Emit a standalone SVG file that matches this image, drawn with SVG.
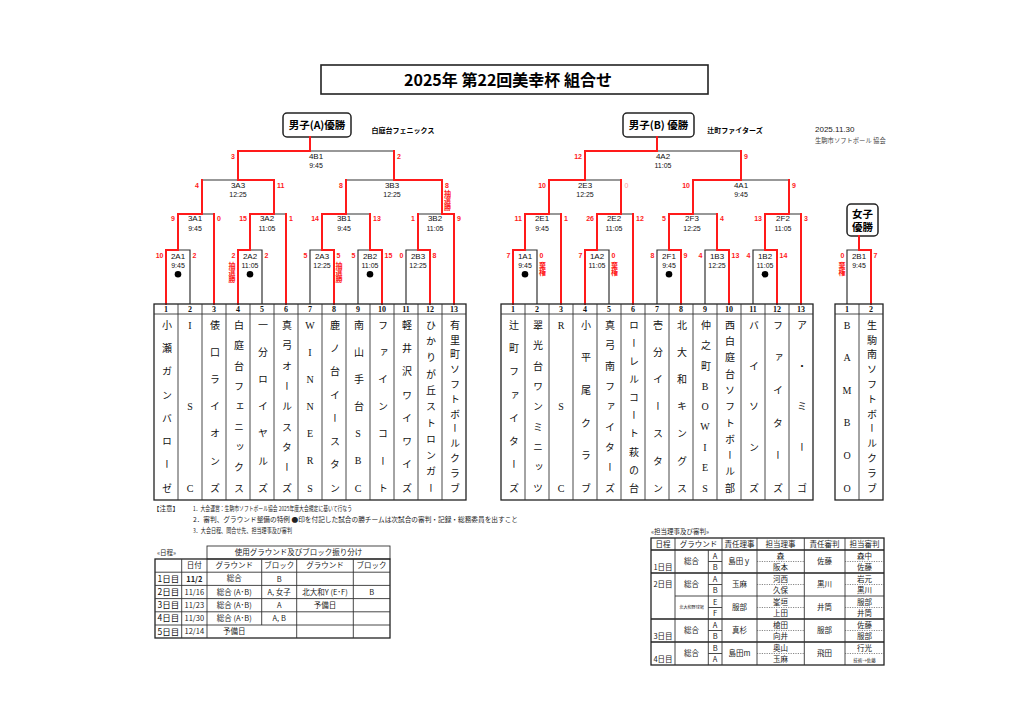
<svg xmlns="http://www.w3.org/2000/svg" width="1024" height="724" viewBox="0 0 1024 724">
<style>
.bk{stroke:#333;stroke-width:1.2;fill:none}
.rd{stroke:#ff1a1a;stroke-width:2;fill:none;stroke-linecap:square}
.sc{font-family:"Liberation Sans",sans-serif;font-size:7px;font-weight:bold;fill:#ff1a1a}
.e{text-anchor:end}
.cd{font-family:"Liberation Sans",sans-serif;font-size:8px;fill:#111;text-anchor:middle}
.tm{font-family:"Liberation Sans",sans-serif;font-size:7px;fill:#111;text-anchor:middle}
.vr{font-family:"Noto Sans CJK JP",sans-serif;font-size:7px;font-weight:bold;fill:#ff1a1a;writing-mode:vertical-rl}
.num{font-family:"Liberation Serif",serif;font-size:8px;font-weight:bold;text-anchor:middle;fill:#111}
.nm{font-family:"Liberation Serif","Noto Sans CJK JP",serif;font-size:10px;fill:#111;writing-mode:vertical-rl;text-orientation:upright;text-anchor:middle}
.cb{fill:#fff;stroke:#222;stroke-width:1.5}
.ct{font-family:"Noto Sans CJK JP",sans-serif;font-weight:bold;font-size:10.5px;text-anchor:middle;fill:#000}
.sm{font-family:"Noto Sans CJK JP",sans-serif;font-size:7px;font-weight:bold;fill:#000;text-anchor:middle}
.gl{stroke:#333;stroke-width:0.9;fill:none}
.go{stroke:#222;stroke-width:1.3;fill:none}
.tx{font-family:"Noto Sans CJK JP",sans-serif;font-size:7.5px;fill:#222;text-anchor:middle}
.tl{font-family:"Noto Sans CJK JP",sans-serif;font-size:8.5px;fill:#111;text-anchor:middle}
.nt{font-family:"Noto Sans CJK JP",sans-serif;font-size:6.5px;fill:#222}
.dt{stroke:#555;stroke-width:0.7;stroke-dasharray:1.2 1.2;fill:none}
</style>

<g id="title">
<rect x="321" y="65" width="387" height="29" fill="#fff" stroke="#222" stroke-width="1.6"/>
<text x="508" y="85.5" font-family="Noto Sans CJK JP, sans-serif" font-size="16" font-weight="bold" text-anchor="middle">2025年 第22回美幸杯 組合せ</text>
</g>

<g id="date">
<text x="815" y="132" font-family="Liberation Sans, sans-serif" font-size="8" fill="#222">2025.11.30</text>
<text x="815" y="143" font-family="Noto Sans CJK JP, sans-serif" font-size="6.3" fill="#444">生駒市ソフトボール 協会</text>
</g>

<g id="champ-a">
<rect class="cb" x="283" y="113" width="68" height="24" rx="4"/>
<text class="ct" x="317" y="129">男子(A)優勝</text>
<text class="sm" x="403" y="132.5">白庭台フェニックス</text>
</g>
<g id="champ-b">
<rect class="cb" x="623" y="113" width="71" height="24" rx="4"/>
<text class="ct" x="658.5" y="129">男子(B) 優勝</text>
<text class="sm" x="735" y="132.5">辻町ファイターズ</text>
</g>
<g id="champ-w">
<rect class="cb" x="847" y="204" width="31" height="32" rx="4"/>
<text class="ct" x="862.5" y="218" font-size="10">女子</text>
<text class="ct" x="862.5" y="231" font-size="10">優勝</text>
</g>

<g id="connectors">
<path class="bk" d="M238,180V151H394V180 M202,214V180H274V214 M346,214V180H442V214 M178,250V214H214V304 M250,250V214H286V304 M322,250V214H370V250 M418,250V214H454V304 M166,304V250H190V304 M238,304V250H262V304 M310,304V250H334V304 M358,304V250H382V304 M406,304V250H430V304"/>
<path class="bk" d="M585,180V151H741V180 M549,214V180H621V214 M693,214V180H789V214 M525,250V214H561V304 M597,250V214H633V304 M669,250V214H717V250 M765,250V214H801V304 M513,304V250H537V304 M585,304V250H609V304 M657,304V250H681V304 M705,304V250H729V304 M753,304V250H777V304"/>
<path class="bk" d="M847,304V250H871V304"/>
<path class="rd" d="M238,304V250H250V214H274V180H238V151H310V137 M394,180V151 M202,214V180 M394,180H442V214H454V304 M346,214V180 M166,304V250H178V214H202 M214,214V304 M250,214V250 M286,214V304 M334,304V250H322V214H346 M382,304V250H370V214 M430,304V250H418V214"/>
<path class="rd" d="M513,304V250H525V214H549V180H585V151H657V137 M741,151V180H693V214H669V250H681V304 M621,180V214H597V250H585V304 M561,214V304 M633,214V304 M717,214V250H729V304 M789,180V214H765V250H777V304 M801,214V304"/>
<path class="rd" d="M871,304V250H859V236"/>
</g>

<g id="match-4B1">
<text class="sc e" x="235" y="158.5">3</text><text class="cd" x="316" y="159">4B1</text><text class="tm" x="316" y="167.5">9:45</text><text class="sc" x="397" y="158.5">2</text>
</g>
<g id="match-3A3">
<text class="sc e" x="199" y="187.5">4</text><text class="cd" x="238" y="188">3A3</text><text class="tm" x="238" y="197">12:25</text><text class="sc" x="277" y="187.5">11</text>
</g>
<g id="match-3B3">
<text class="sc e" x="343" y="187.5">8</text><text class="cd" x="392" y="188">3B3</text><text class="tm" x="392" y="197">12:25</text><text class="sc" x="445" y="187.5">8</text><text class="vr" x="447.5" y="190">抽選勝</text>
</g>
<g id="match-3A1">
<text class="sc e" x="175" y="220.5">9</text><text class="cd" x="195" y="221">3A1</text><text class="tm" x="195" y="231">9:45</text><text class="sc" x="217" y="220.5">0</text>
</g>
<g id="match-3A2">
<text class="sc e" x="247" y="220.5">15</text><text class="cd" x="267" y="221">3A2</text><text class="tm" x="267" y="231">11:05</text><text class="sc" x="289" y="220.5">1</text>
</g>
<g id="match-3B1">
<text class="sc e" x="319" y="220.5">14</text><text class="cd" x="344" y="221">3B1</text><text class="tm" x="344" y="231">9:45</text><text class="sc" x="373" y="220.5">13</text>
</g>
<g id="match-3B2">
<text class="sc e" x="415" y="220.5">1</text><text class="cd" x="435" y="221">3B2</text><text class="tm" x="435" y="231">11:05</text><text class="sc" x="457" y="220.5">9</text>
</g>
<g id="match-2A1">
<text class="sc e" x="163.5" y="258.2">10</text><text class="cd" x="178" y="258.7">2A1</text><text class="tm" x="178" y="267.5">9:45</text><circle cx="178" cy="274.3" r="3.3"/><text class="sc" x="192.5" y="258.2">2</text>
</g>
<g id="match-2A2">
<text class="sc e" x="235.5" y="258.2">2</text><text class="vr" x="232" y="262">抽選勝</text><text class="cd" x="250" y="258.7">2A2</text><text class="tm" x="250" y="267.5">11:05</text><circle cx="250" cy="274.3" r="3.3"/><text class="sc" x="264.5" y="258.2">2</text>
</g>
<g id="match-2A3">
<text class="sc e" x="307.5" y="258.2">5</text><text class="cd" x="322" y="258.7">2A3</text><text class="tm" x="322" y="267.5">12:25</text><text class="sc" x="336.5" y="258.2">5</text><text class="vr" x="339" y="262">抽選勝</text>
</g>
<g id="match-2B2">
<text class="sc e" x="355.5" y="258.2">5</text><text class="cd" x="370" y="258.7">2B2</text><text class="tm" x="370" y="267.5">11:05</text><circle cx="370" cy="274.3" r="3.3"/><text class="sc" x="384.5" y="258.2">15</text>
</g>
<g id="match-2B3">
<text class="sc e" x="403.5" y="258.2">0</text><text class="cd" x="418" y="258.7">2B3</text><text class="tm" x="418" y="267.5">12:25</text><text class="sc" x="432.5" y="258.2">8</text>
</g>

<g id="match-4A2">
<text class="sc e" x="582" y="158.5">12</text><text class="cd" x="663" y="159">4A2</text><text class="tm" x="663" y="167.5">11:05</text><text class="sc" x="744" y="158.5">9</text>
</g>
<g id="match-2E3">
<text class="sc e" x="546" y="187.5">10</text><text class="cd" x="585" y="188">2E3</text><text class="tm" x="585" y="197">12:25</text><text class="sc" x="624.5" y="187.5" style="fill:#ff9c9c;font-weight:normal">0</text>
</g>
<g id="match-4A1">
<text class="sc e" x="690" y="187.5">10</text><text class="cd" x="741" y="188">4A1</text><text class="tm" x="741" y="197">9:45</text><text class="sc" x="792" y="187.5">9</text>
</g>
<g id="match-2E1">
<text class="sc e" x="522" y="220.5">11</text><text class="cd" x="542" y="221">2E1</text><text class="tm" x="542" y="231">9:45</text><text class="sc" x="564" y="220.5">1</text>
</g>
<g id="match-2E2">
<text class="sc e" x="594" y="220.5">26</text><text class="cd" x="614" y="221">2E2</text><text class="tm" x="614" y="231">11:05</text><text class="sc" x="636" y="220.5">12</text>
</g>
<g id="match-2F3">
<text class="sc e" x="666" y="220.5">5</text><text class="cd" x="692" y="221">2F3</text><text class="tm" x="692" y="231">12:25</text><text class="sc" x="720" y="220.5">4</text>
</g>
<g id="match-2F2">
<text class="sc e" x="762" y="220.5">13</text><text class="cd" x="783" y="221">2F2</text><text class="tm" x="783" y="231">11:05</text><text class="sc" x="804" y="220.5">3</text>
</g>
<g id="match-1A1">
<text class="sc e" x="510.5" y="258.2">7</text><text class="cd" x="525" y="258.7">1A1</text><text class="tm" x="525" y="267.5">9:45</text><circle cx="525" cy="274.3" r="3.3"/><text class="sc" x="539.5" y="258.2">0</text><text class="vr" x="542.5" y="262">棄権</text>
</g>
<g id="match-1A2">
<text class="sc e" x="582.5" y="258.2">7</text><text class="cd" x="597" y="258.7">1A2</text><text class="tm" x="597" y="267.5">11:05</text><text class="sc" x="611.5" y="258.2">0</text><text class="vr" x="614.5" y="262">棄権</text>
</g>
<g id="match-2F1">
<text class="sc e" x="654.5" y="258.2">8</text><text class="cd" x="669" y="258.7">2F1</text><text class="tm" x="669" y="267.5">9:45</text><circle cx="669" cy="274.3" r="3.3"/><text class="sc" x="683.5" y="258.2">9</text>
</g>
<g id="match-1B3">
<text class="sc e" x="702.5" y="258.2">4</text><text class="cd" x="717" y="258.7">1B3</text><text class="tm" x="717" y="267.5">12:25</text><text class="sc" x="731.5" y="258.2">13</text>
</g>
<g id="match-1B2">
<text class="sc e" x="750.5" y="258.2">4</text><text class="cd" x="765" y="258.7">1B2</text><text class="tm" x="765" y="267.5">11:05</text><circle cx="765" cy="274.3" r="3.3"/><text class="sc" x="779.5" y="258.2">14</text>
</g>
<g id="match-2B1">
<text class="sc e" x="844.5" y="258.2">0</text><text class="vr" x="842" y="262">棄権</text><text class="cd" x="859" y="258.7">2B1</text><text class="tm" x="859" y="267.5">9:45</text><text class="sc" x="873.5" y="258.2">7</text>
</g>

<g id="teams-a">
<rect class="go" x="154" y="304" width="312" height="196"/>
<path class="gl" d="M154,314H466 M178,304V500 M202,304V500 M226,304V500 M250,304V500 M274,304V500 M298,304V500 M322,304V500 M346,304V500 M370,304V500 M394,304V500 M418,304V500 M442,304V500"/>
<g id="a1"><text class="num" x="166" y="312">1</text><text class="nm" x="166"><tspan y="325">小</tspan><tspan y="348.3">瀬</tspan><tspan y="371.6">ガ</tspan><tspan y="394.9">ン</tspan><tspan y="418.1">バ</tspan><tspan y="441.4">ロ</tspan><tspan y="464.7">ー</tspan><tspan y="488">ゼ</tspan></text></g>
<g id="a2"><text class="num" x="190" y="312">2</text><text class="nm" x="190"><tspan y="325">I</tspan><tspan y="406.5">S</tspan><tspan y="488">C</tspan></text></g>
<g id="a3"><text class="num" x="214" y="312">3</text><text class="nm" x="214"><tspan y="325">俵</tspan><tspan y="352.2">口</tspan><tspan y="379.3">ラ</tspan><tspan y="406.5">イ</tspan><tspan y="433.7">オ</tspan><tspan y="460.8">ン</tspan><tspan y="488">ズ</tspan></text></g>
<g id="a4"><text class="num" x="238" y="312">4</text><text class="nm" x="238"><tspan y="325">白</tspan><tspan y="345.4">庭</tspan><tspan y="365.8">台</tspan><tspan y="386.1">フ</tspan><tspan y="406.5">ェ</tspan><tspan y="426.9">ニ</tspan><tspan y="447.3">ッ</tspan><tspan y="467.6">ク</tspan><tspan y="488">ス</tspan></text></g>
<g id="a5"><text class="num" x="262" y="312">5</text><text class="nm" x="262"><tspan y="325">一</tspan><tspan y="352.2">分</tspan><tspan y="379.3">ロ</tspan><tspan y="406.5">イ</tspan><tspan y="433.7">ヤ</tspan><tspan y="460.8">ル</tspan><tspan y="488">ズ</tspan></text></g>
<g id="a6"><text class="num" x="286" y="312">6</text><text class="nm" x="286"><tspan y="325">真</tspan><tspan y="345.4">弓</tspan><tspan y="365.8">オ</tspan><tspan y="386.1">ー</tspan><tspan y="406.5">ル</tspan><tspan y="426.9">ス</tspan><tspan y="447.3">タ</tspan><tspan y="467.6">ー</tspan><tspan y="488">ズ</tspan></text></g>
<g id="a7"><text class="num" x="310" y="312">7</text><text class="nm" x="310"><tspan y="325">W</tspan><tspan y="352.2">I</tspan><tspan y="379.3">N</tspan><tspan y="406.5">N</tspan><tspan y="433.7">E</tspan><tspan y="460.8">R</tspan><tspan y="488">S</tspan></text></g>
<g id="a8"><text class="num" x="334" y="312">8</text><text class="nm" x="334"><tspan y="325">鹿</tspan><tspan y="348.3">ノ</tspan><tspan y="371.6">台</tspan><tspan y="394.9">イ</tspan><tspan y="418.1">ー</tspan><tspan y="441.4">ス</tspan><tspan y="464.7">タ</tspan><tspan y="488">ン</tspan></text></g>
<g id="a9"><text class="num" x="358" y="312">9</text><text class="nm" x="358"><tspan y="325">南</tspan><tspan y="352.2">山</tspan><tspan y="379.3">手</tspan><tspan y="406.5">台</tspan><tspan y="433.7">S</tspan><tspan y="460.8">B</tspan><tspan y="488">C</tspan></text></g>
<g id="a10"><text class="num" x="382" y="312">10</text><text class="nm" x="382"><tspan y="325">フ</tspan><tspan y="352.2">ァ</tspan><tspan y="379.3">イ</tspan><tspan y="406.5">ン</tspan><tspan y="433.7">コ</tspan><tspan y="460.8">ー</tspan><tspan y="488">ト</tspan></text></g>
<g id="a11"><text class="num" x="406" y="312">11</text><text class="nm" x="406"><tspan y="325">軽</tspan><tspan y="348.3">井</tspan><tspan y="371.6">沢</tspan><tspan y="394.9">ワ</tspan><tspan y="418.1">イ</tspan><tspan y="441.4">ワ</tspan><tspan y="464.7">イ</tspan><tspan y="488">ズ</tspan></text></g>
<g id="a12"><text class="num" x="430" y="312">12</text><text class="nm" x="430"><tspan y="325">ひ</tspan><tspan y="341.3">か</tspan><tspan y="357.6">り</tspan><tspan y="373.9">が</tspan><tspan y="390.2">丘</tspan><tspan y="406.5">ス</tspan><tspan y="422.8">ト</tspan><tspan y="439.1">ロ</tspan><tspan y="455.4">ン</tspan><tspan y="471.7">ガ</tspan><tspan y="488">ー</tspan></text></g>
<g id="a13"><text class="num" x="454" y="312">13</text><text class="nm" x="454"><tspan y="325">有</tspan><tspan y="339.8">里</tspan><tspan y="354.6">町</tspan><tspan y="369.5">ソ</tspan><tspan y="384.3">フ</tspan><tspan y="399.1">ト</tspan><tspan y="413.9">ボ</tspan><tspan y="428.7">ー</tspan><tspan y="443.5">ル</tspan><tspan y="458.4">ク</tspan><tspan y="473.2">ラ</tspan><tspan y="488">ブ</tspan></text></g>
</g>

<g id="teams-b">
<rect class="go" x="501" y="304" width="312" height="196"/>
<path class="gl" d="M501,314H813 M525,304V500 M549,304V500 M573,304V500 M597,304V500 M621,304V500 M645,304V500 M669,304V500 M693,304V500 M717,304V500 M741,304V500 M765,304V500 M789,304V500"/>
<g id="b1"><text class="num" x="513" y="312">1</text><text class="nm" x="513"><tspan y="325">辻</tspan><tspan y="348.3">町</tspan><tspan y="371.6">フ</tspan><tspan y="394.9">ァ</tspan><tspan y="418.1">イ</tspan><tspan y="441.4">タ</tspan><tspan y="464.7">ー</tspan><tspan y="488">ズ</tspan></text></g>
<g id="b2"><text class="num" x="537" y="312">2</text><text class="nm" x="537"><tspan y="325">翠</tspan><tspan y="345.4">光</tspan><tspan y="365.8">台</tspan><tspan y="386.1">ワ</tspan><tspan y="406.5">ン</tspan><tspan y="426.9">ミ</tspan><tspan y="447.3">ニ</tspan><tspan y="467.6">ッ</tspan><tspan y="488">ツ</tspan></text></g>
<g id="b3"><text class="num" x="561" y="312">3</text><text class="nm" x="561"><tspan y="325">R</tspan><tspan y="406.5">S</tspan><tspan y="488">C</tspan></text></g>
<g id="b4"><text class="num" x="585" y="312">4</text><text class="nm" x="585"><tspan y="325">小</tspan><tspan y="357.6">平</tspan><tspan y="390.2">尾</tspan><tspan y="422.8">ク</tspan><tspan y="455.4">ラ</tspan><tspan y="488">ブ</tspan></text></g>
<g id="b5"><text class="num" x="609" y="312">5</text><text class="nm" x="609"><tspan y="325">真</tspan><tspan y="345.4">弓</tspan><tspan y="365.8">南</tspan><tspan y="386.1">フ</tspan><tspan y="406.5">ァ</tspan><tspan y="426.9">イ</tspan><tspan y="447.3">タ</tspan><tspan y="467.6">ー</tspan><tspan y="488">ズ</tspan></text></g>
<g id="b6"><text class="num" x="633" y="312">6</text><text class="nm" x="633"><tspan y="325">ロ</tspan><tspan y="343.1">ー</tspan><tspan y="361.2">レ</tspan><tspan y="379.3">ル</tspan><tspan y="397.4">コ</tspan><tspan y="415.6">ー</tspan><tspan y="433.7">ト</tspan><tspan y="451.8">萩</tspan><tspan y="469.9">の</tspan><tspan y="488">台</tspan></text></g>
<g id="b7"><text class="num" x="657" y="312">7</text><text class="nm" x="657"><tspan y="325">壱</tspan><tspan y="352.2">分</tspan><tspan y="379.3">イ</tspan><tspan y="406.5">ー</tspan><tspan y="433.7">ス</tspan><tspan y="460.8">タ</tspan><tspan y="488">ン</tspan></text></g>
<g id="b8"><text class="num" x="681" y="312">8</text><text class="nm" x="681"><tspan y="325">北</tspan><tspan y="352.2">大</tspan><tspan y="379.3">和</tspan><tspan y="406.5">キ</tspan><tspan y="433.7">ン</tspan><tspan y="460.8">グ</tspan><tspan y="488">ス</tspan></text></g>
<g id="b9"><text class="num" x="705" y="312">9</text><text class="nm" x="705"><tspan y="325">仲</tspan><tspan y="345.4">之</tspan><tspan y="365.8">町</tspan><tspan y="386.1">B</tspan><tspan y="406.5">O</tspan><tspan y="426.9">W</tspan><tspan y="447.3">I</tspan><tspan y="467.6">E</tspan><tspan y="488">S</tspan></text></g>
<g id="b10"><text class="num" x="729" y="312">10</text><text class="nm" x="729"><tspan y="325">西</tspan><tspan y="341.3">白</tspan><tspan y="357.6">庭</tspan><tspan y="373.9">台</tspan><tspan y="390.2">ソ</tspan><tspan y="406.5">フ</tspan><tspan y="422.8">ト</tspan><tspan y="439.1">ボ</tspan><tspan y="455.4">ー</tspan><tspan y="471.7">ル</tspan><tspan y="488">部</tspan></text></g>
<g id="b11"><text class="num" x="753" y="312">11</text><text class="nm" x="753"><tspan y="325">バ</tspan><tspan y="365.8">イ</tspan><tspan y="406.5">ソ</tspan><tspan y="447.3">ン</tspan><tspan y="488">ズ</tspan></text></g>
<g id="b12"><text class="num" x="777" y="312">12</text><text class="nm" x="777"><tspan y="325">フ</tspan><tspan y="357.6">ァ</tspan><tspan y="390.2">イ</tspan><tspan y="422.8">タ</tspan><tspan y="455.4">ー</tspan><tspan y="488">ズ</tspan></text></g>
<g id="b13"><text class="num" x="801" y="312">13</text><text class="nm" x="801"><tspan y="325">ア</tspan><tspan y="365.8">・</tspan><tspan y="406.5">ミ</tspan><tspan y="447.3">ー</tspan><tspan y="488">ゴ</tspan></text></g>
</g>

<g id="teams-w">
<rect class="go" x="835" y="304" width="48" height="196"/>
<path class="gl" d="M835,314H883 M859,304V500"/>
<g id="w1"><text class="num" x="847" y="312">1</text><text class="nm" x="847"><tspan y="325">B</tspan><tspan y="357.6">A</tspan><tspan y="390.2">M</tspan><tspan y="422.8">B</tspan><tspan y="455.4">O</tspan><tspan y="488">O</tspan></text></g>
<g id="w2"><text class="num" x="871" y="312">2</text><text class="nm" x="871"><tspan y="325">生</tspan><tspan y="339.8">駒</tspan><tspan y="354.6">南</tspan><tspan y="369.5">ソ</tspan><tspan y="384.3">フ</tspan><tspan y="399.1">ト</tspan><tspan y="413.9">ボ</tspan><tspan y="428.7">ー</tspan><tspan y="443.5">ル</tspan><tspan y="458.4">ク</tspan><tspan y="473.2">ラ</tspan><tspan y="488">ブ</tspan></text></g>
</g>

<g id="notes">
<text class="nt" x="153" y="510.5">【注意】</text>
<text class="nt" x="193" y="510.5" textLength="159" lengthAdjust="spacingAndGlyphs">1．大会運営：生駒市ソフトボール協会 2025年度大会規定に基いて行なう</text>
<text class="nt" x="193" y="521.5" textLength="325" lengthAdjust="spacingAndGlyphs">2．審判、グラウンド整備の特例 ●印を付記した試合の勝チームは次試合の審判・記録・総務委員を出すこと</text>
<text class="nt" x="193" y="532.5" textLength="99" lengthAdjust="spacingAndGlyphs">3．大会日程、問合せ先、担当理事及び審判</text>
</g>

<g id="schedule">
<text class="nt" x="157" y="555" font-size="7.5">«日程»</text>
<rect class="gl" x="207" y="546" width="183" height="13"/>
<text class="tx" x="298.5" y="555.3">使用グラウンド及びブロック振り分け</text>
<rect class="go" x="155" y="559" width="235" height="79"/>
<path class="gl" d="M155,572.2H390 M155,585.4H390 M155,598.6H390 M155,611.8H390 M155,625H390 M181.7,559V638 M207,559V638 M261.7,559V625 M296.7,559V638 M353.3,559V638"/>
<text class="tx" x="194.3" y="568.4">日付</text><text class="tx" x="234.3" y="568.4">グラウンド</text><text class="tx" x="279.2" y="568.4">ブロック</text><text class="tx" x="325" y="568.4">グラウンド</text><text class="tx" x="371.6" y="568.4">ブロック</text>
<text class="tl" x="168.3" y="581.8">1日目</text><text class="tx" x="194.3" y="581.6" font-weight="bold" font-size="8.5">11/2</text><text class="tx" x="234.3" y="581.4">総合</text><text class="tx" x="279.2" y="581.6" font-size="8">B</text>
<text class="tl" x="168.3" y="595">2日目</text><text class="tx" x="194.3" y="594.6" fill="#555">11/16</text><text class="tx" x="234.3" y="594.6">総合 (A･B)</text><text class="tx" x="279.2" y="594.6">A, 女子</text><text class="tx" x="325" y="594.6">北大和Y (E･F)</text><text class="tx" x="371.6" y="594.8" font-size="8">B</text>
<text class="tl" x="168.3" y="608.2">3日目</text><text class="tx" x="194.3" y="607.8" fill="#555">11/23</text><text class="tx" x="234.3" y="607.8">総合 (A･B)</text><text class="tx" x="279.2" y="608" font-size="8">A</text><text class="tx" x="325" y="607.8">予備日</text>
<text class="tl" x="168.3" y="621.4">4日目</text><text class="tx" x="194.3" y="621" fill="#555">11/30</text><text class="tx" x="234.3" y="621">総合 (A･B)</text><text class="tx" x="279.2" y="621">A, B</text>
<text class="tl" x="168.3" y="634.6">5日目</text><text class="tx" x="194.3" y="634.2" fill="#555">12/14</text><text class="tx" x="234.3" y="634.2">予備日</text>
</g>

<g id="referees">
<text class="nt" x="651" y="534" font-size="7.5">«担当理事及び審判»</text>
<rect class="go" x="651" y="538" width="233" height="127"/>
<path class="go" d="M651,550H884 M651,573H884 M651,619H884 M651,642H884"/>
<path class="gl" d="M675,596H884 M675,538V665 M708.3,550V665 M722,538V665 M757,538V665 M804.3,538V665 M845,538V665 M708.3,561.5H722 M708.3,584.5H722 M708.3,607.5H722 M708.3,630.5H722 M708.3,653.5H722"/>
<path class="dt" d="M757,561.5H804.3 M757,584.5H804.3 M757,607.5H804.3 M757,630.5H804.3 M757,653.5H804.3 M845,561.5H884 M845,584.5H884 M845,607.5H884 M845,630.5H884 M845,653.5H884"/>
<text class="tx" x="663" y="547">日程</text><text class="tx" x="698.5" y="547">グラウンド</text><text class="tx" x="739.5" y="547">責任理事</text><text class="tx" x="780.6" y="547">担当理事</text><text class="tx" x="824.6" y="547">責任審判</text><text class="tx" x="864.5" y="547">担当審判</text>
<text class="tx" x="663" y="570" font-size="8">1日目</text><text class="tx" x="691.6" y="564">総合</text><text class="tx" x="715.1" y="558.5">A</text><text class="tx" x="715.1" y="570">B</text><text class="tx" x="739.5" y="564">島田ｙ</text><text class="tx" x="780.6" y="558.5">森</text><text class="tx" x="780.6" y="570">阪本</text><text class="tx" x="824.6" y="564">佐藤</text><text class="tx" x="864.5" y="558.5">森中</text><text class="tx" x="864.5" y="570">佐藤</text>
<text class="tx" x="663" y="587" font-size="8">2日目</text><text class="tx" x="691.6" y="587">総合</text><text class="tx" x="715.1" y="581.5">A</text><text class="tx" x="715.1" y="593">B</text><text class="tx" x="739.5" y="587">玉麻</text><text class="tx" x="780.6" y="581.5">河西</text><text class="tx" x="780.6" y="593">久保</text><text class="tx" x="824.6" y="587">黒川</text><text class="tx" x="864.5" y="581.5">岩元</text><text class="tx" x="864.5" y="593">黒川</text>
<text class="tx" transform="translate(691.6,609) scale(0.55)" x="0" y="0" font-size="7">北大和野球場</text><text class="tx" x="715.1" y="604.5">E</text><text class="tx" x="715.1" y="616">F</text><text class="tx" x="739.5" y="610">服部</text><text class="tx" x="780.6" y="604.5">峯垣</text><text class="tx" x="780.6" y="616">上田</text><text class="tx" x="824.6" y="610">井筒</text><text class="tx" x="864.5" y="604.5">服部</text><text class="tx" x="864.5" y="616">井筒</text>
<text class="tx" x="663" y="639" font-size="8">3日目</text><text class="tx" x="691.6" y="633">総合</text><text class="tx" x="715.1" y="627.5">A</text><text class="tx" x="715.1" y="639">B</text><text class="tx" x="739.5" y="633">真杉</text><text class="tx" x="780.6" y="627.5">槍田</text><text class="tx" x="780.6" y="639">向井</text><text class="tx" x="824.6" y="633">服部</text><text class="tx" x="864.5" y="627.5">佐藤</text><text class="tx" x="864.5" y="639">服部</text>
<text class="tx" x="663" y="662" font-size="8">4日目</text><text class="tx" x="691.6" y="656">総合</text><text class="tx" x="715.1" y="650.5">B</text><text class="tx" x="715.1" y="662">A</text><text class="tx" x="739.5" y="656">島田m</text><text class="tx" x="780.6" y="650.5">奥山</text><text class="tx" x="780.6" y="662">玉麻</text><text class="tx" x="824.6" y="656">飛田</text><text class="tx" x="864.5" y="650.5">行光</text><text class="tx" transform="translate(864.5,661.5) scale(0.6)" x="0" y="0" font-size="7">技術→佐藤</text>
</g>
</svg>
